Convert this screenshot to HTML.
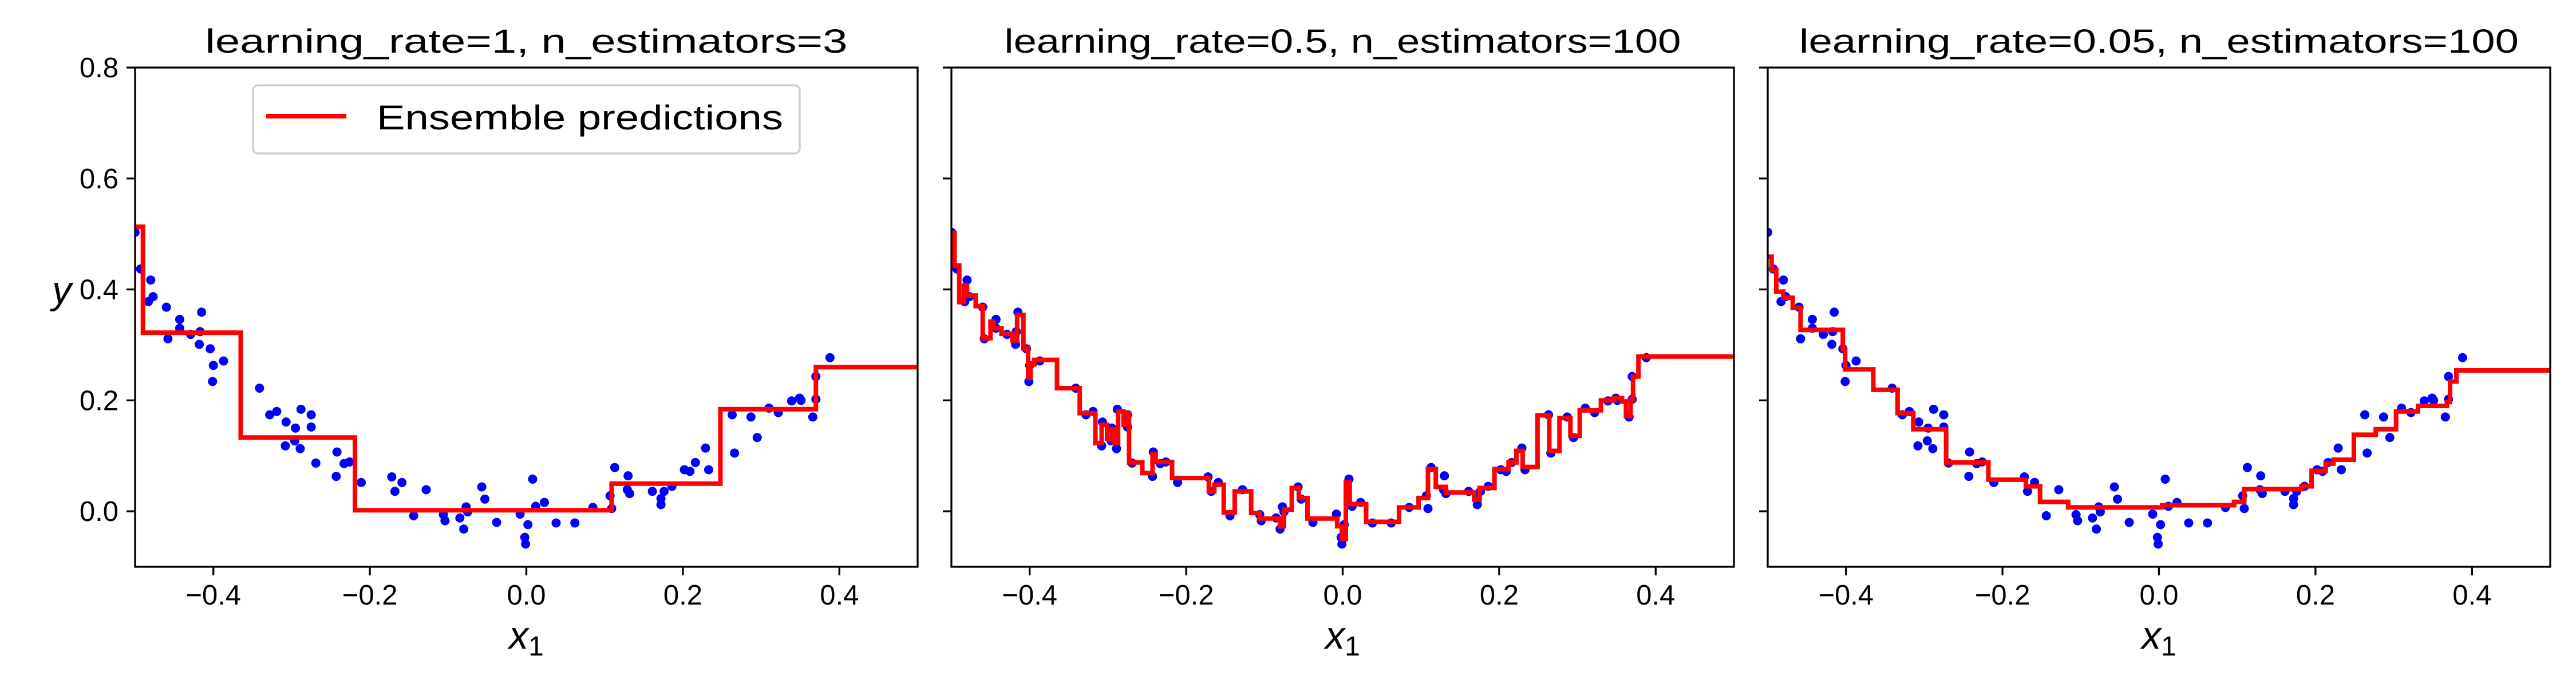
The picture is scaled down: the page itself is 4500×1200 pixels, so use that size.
<!DOCTYPE html>
<html><head><meta charset="utf-8"><style>
html,body{margin:0;padding:0;background:#fff;}
svg{display:block;}
text{font-family:"Liberation Sans","DejaVu Sans",sans-serif;fill:#000;}
</style></head><body>
<svg id="fig" width="4500" height="1200" viewBox="0 0 4500 1200" xmlns="http://www.w3.org/2000/svg"></svg>
<script>
// ---- data ----
const pointsX = [-0.5,-0.493,-0.48,-0.483,-0.477,-0.46,-0.458,-0.443,-0.443,-0.429,-0.417,-0.415,-0.418,-0.404,-0.4,-0.401,-0.387,-0.341,-0.328,-0.319,-0.307,-0.295,-0.308,-0.296,-0.289,-0.288,-0.275,-0.275,-0.269,-0.243,-0.242,-0.233,-0.226,-0.211,-0.172,-0.168,-0.159,-0.144,-0.128,-0.106,-0.104,-0.085,-0.08,-0.077,-0.075,-0.057,-0.053,-0.038,-0.008,-0.002,-0.001,0.002,0.008,0.012,0.023,0.038,0.062,0.085,0.107,0.109,0.113,0.13,0.129,0.132,0.161,0.172,0.172,0.176,0.186,0.202,0.209,0.216,0.229,0.233,0.263,0.266,0.287,0.295,0.31,0.322,0.339,0.349,0.351,0.366,0.37,0.37,0.388];
const pointsY = [0.503,0.437,0.417,0.378,0.387,0.368,0.311,0.346,0.33,0.319,0.324,0.359,0.301,0.293,0.263,0.234,0.271,0.222,0.174,0.18,0.161,0.15,0.118,0.127,0.113,0.184,0.174,0.152,0.087,0.063,0.107,0.086,0.089,0.052,0.062,0.036,0.052,-0.008,0.039,-0.006,-0.017,-0.012,-0.032,0.008,-0.001,0.044,0.022,-0.02,-0.005,-0.047,-0.059,-0.024,0.058,0.009,0.016,-0.021,-0.021,0.007,0.028,0.005,0.079,0.064,0.039,0.032,0.036,0.023,0.012,0.036,0.045,0.075,0.072,0.088,0.114,0.075,0.174,0.105,0.17,0.133,0.186,0.178,0.199,0.204,0.2,0.17,0.243,0.202,0.277];

// step predictions: edges (x where each level begins) and levels
const pred1X = [-0.5,-0.49,-0.365,-0.219,0.109,0.248,0.370];
const pred1Y = [0.513,0.322,0.133,0.002,0.050,0.184,0.260];

const pred2X = [-0.5,-0.496,-0.49,-0.484,-0.48,-0.469,-0.46,-0.45,-0.446,-0.436,-0.422,-0.416,-0.408,-0.402,-0.399,-0.394,-0.365,-0.336,-0.316,-0.308,-0.301,-0.295,-0.292,-0.287,-0.28,-0.276,-0.273,-0.256,-0.243,-0.239,-0.218,-0.171,-0.164,-0.152,-0.138,-0.117,-0.106,-0.08,-0.075,-0.065,-0.056,-0.045,-0.007,-0.001,0.004,0.009,0.03,0.072,0.097,0.109,0.119,0.132,0.168,0.175,0.194,0.212,0.222,0.23,0.249,0.264,0.277,0.291,0.303,0.33,0.347,0.357,0.362,0.368,0.371,0.378];
const pred2Y = [0.502,0.443,0.377,0.407,0.389,0.37,0.312,0.342,0.33,0.32,0.308,0.354,0.294,0.241,0.265,0.273,0.222,0.177,0.123,0.156,0.131,0.148,0.123,0.18,0.156,0.177,0.088,0.069,0.103,0.089,0.06,0.036,0.048,-0.002,0.036,-0.003,-0.013,-0.027,0.003,0.042,0.024,-0.013,-0.027,-0.05,0.052,0.013,-0.019,0.007,0.024,0.076,0.044,0.034,0.021,0.042,0.076,0.088,0.109,0.08,0.173,0.109,0.168,0.136,0.182,0.2,0.204,0.198,0.172,0.202,0.243,0.279];

const pred3X = [-0.5,-0.495,-0.489,-0.48,-0.468,-0.458,-0.404,-0.401,-0.365,-0.334,-0.314,-0.272,-0.218,-0.17,-0.152,-0.116,0.004,0.096,0.109,0.182,0.195,0.213,0.223,0.249,0.277,0.303,0.331,0.368,0.372,0.38];
const pred3Y = [0.459,0.435,0.396,0.385,0.367,0.327,0.292,0.256,0.219,0.177,0.148,0.088,0.057,0.045,0.017,0.007,0.011,0.017,0.040,0.045,0.073,0.086,0.093,0.138,0.148,0.180,0.190,0.197,0.234,0.254];

const xTicks = [-0.4,-0.2,0.0,0.2,0.4];
const xTickLabels = ["\u22120.4","\u22120.2","0.0","0.2","0.4"];
const yTicks = [0.0,0.2,0.4,0.6,0.8];
const yTickLabels = ["0.0","0.2","0.4","0.6","0.8"];
const titles = ["learning_rate=1, n_estimators=3","learning_rate=0.5, n_estimators=100","learning_rate=0.05, n_estimators=100"];
const titleWidths = [1122,1182,1257];

// ---- layout ----
const NS = "http://www.w3.org/2000/svg";
const svg = document.getElementById('fig');
const panelLeft = [236,1662,3088];
const PW = 1367, PT = 118, PH = 872;
const xmin=-0.5,xmax=0.5,ymin=-0.1,ymax=0.8;
function mk(tag, attrs, parent){const e=document.createElementNS(NS,tag);for(const k in attrs)e.setAttribute(k,attrs[k]);(parent||svg).appendChild(e);return e;}

const preds = [[pred1X,pred1Y],[pred2X,pred2Y],[pred3X,pred3Y]];
for(let p=0;p<3;p++){
  const L = panelLeft[p];
  const sx = v => L + (v-xmin)/(xmax-xmin)*PW;
  const sy = v => PT + (ymax-v)/(ymax-ymin)*PH;
  const g = mk('g',{});
  
  
  const clipId='clip'+p;
  const cp = mk('clipPath',{id:clipId},g); mk('rect',{x:L,y:PT,width:PW,height:PH},cp);
  const t = mk('text',{x:L+PW/2,y:92,'text-anchor':'middle','font-size':58,textLength:titleWidths[p],lengthAdjust:'spacingAndGlyphs'},g);
  t.textContent = titles[p];
  
  
  const pg = mk('g',{'clip-path':'url(#'+clipId+')'},g);
  
  
  for(let i=0;i<pointsX.length;i++){
    const c = mk('ellipse',{cx:sx(pointsX[i]),cy:sy(pointsY[i]),rx:8,ry:8,fill:'#0000ff'},pg);
    
    
  }
  const [ex,ey] = preds[p];
  let d = '';
  for(let i=0;i<ex.length;i++){
    const x0 = sx(ex[i]), x1 = sx(i+1<ex.length?ex[i+1]:xmax), y = sy(ey[i]);
    d += (i===0?'M':'L')+x0.toFixed(1)+','+y.toFixed(1)+' L'+x1.toFixed(1)+','+y.toFixed(1)+' ';
  }
  const line = mk('path',{d:d,fill:'none',stroke:'#ff0000','stroke-width':8,'stroke-linejoin':'miter','clip-path':'url(#'+clipId+')'},g);
  
  
  const fr = mk('rect',{x:L,y:PT,width:PW,height:PH,fill:'none',stroke:'#000','stroke-width':3.3},g);
  
  
  for(let i=0;i<xTicks.length;i++){
    const X = sx(xTicks[i]);
    mk('line',{x1:X,x2:X,y1:PT+PH,y2:PT+PH+15,stroke:'#000','stroke-width':3.3},g);
    const tl = mk('text',{x:X,y:1056,'text-anchor':'middle','font-size':49},g);
    tl.textContent = xTickLabels[i];
    
    
  }
  for(let i=0;i<yTicks.length;i++){
    const Y = sy(yTicks[i]);
    mk('line',{x1:L-15,x2:L,y1:Y,y2:Y,stroke:'#000','stroke-width':3.3},g);
    if(p===0){
      const tl = mk('text',{x:207,y:Y+17,'text-anchor':'end','font-size':49},g);
      tl.textContent = yTickLabels[i];
      
      
    }
  }
  const xl = mk('text',{x:L+PW/2,y:1133,'text-anchor':'middle','font-size':68},g);
  xl.innerHTML = '<tspan font-style="italic">x</tspan><tspan font-size="48" dy="12">1</tspan>';
  
  
}
const yl = mk('text',{x:108,y:530,'text-anchor':'middle','font-size':68,'font-style':'italic'});
yl.textContent='y';


const lg = mk('g',{});


mk('rect',{x:442,y:149,width:955,height:119,rx:9,fill:'#fff','fill-opacity':0.8,stroke:'#cccccc','stroke-width':3.3},lg);
const ll = mk('line',{x1:465,x2:605,y1:203,y2:203,stroke:'#ff0000','stroke-width':8},lg);


const lt = mk('text',{x:658,y:226,'font-size':60,textLength:710,lengthAdjust:'spacingAndGlyphs'},lg);
lt.textContent='Ensemble predictions';


</script>
</body></html>
